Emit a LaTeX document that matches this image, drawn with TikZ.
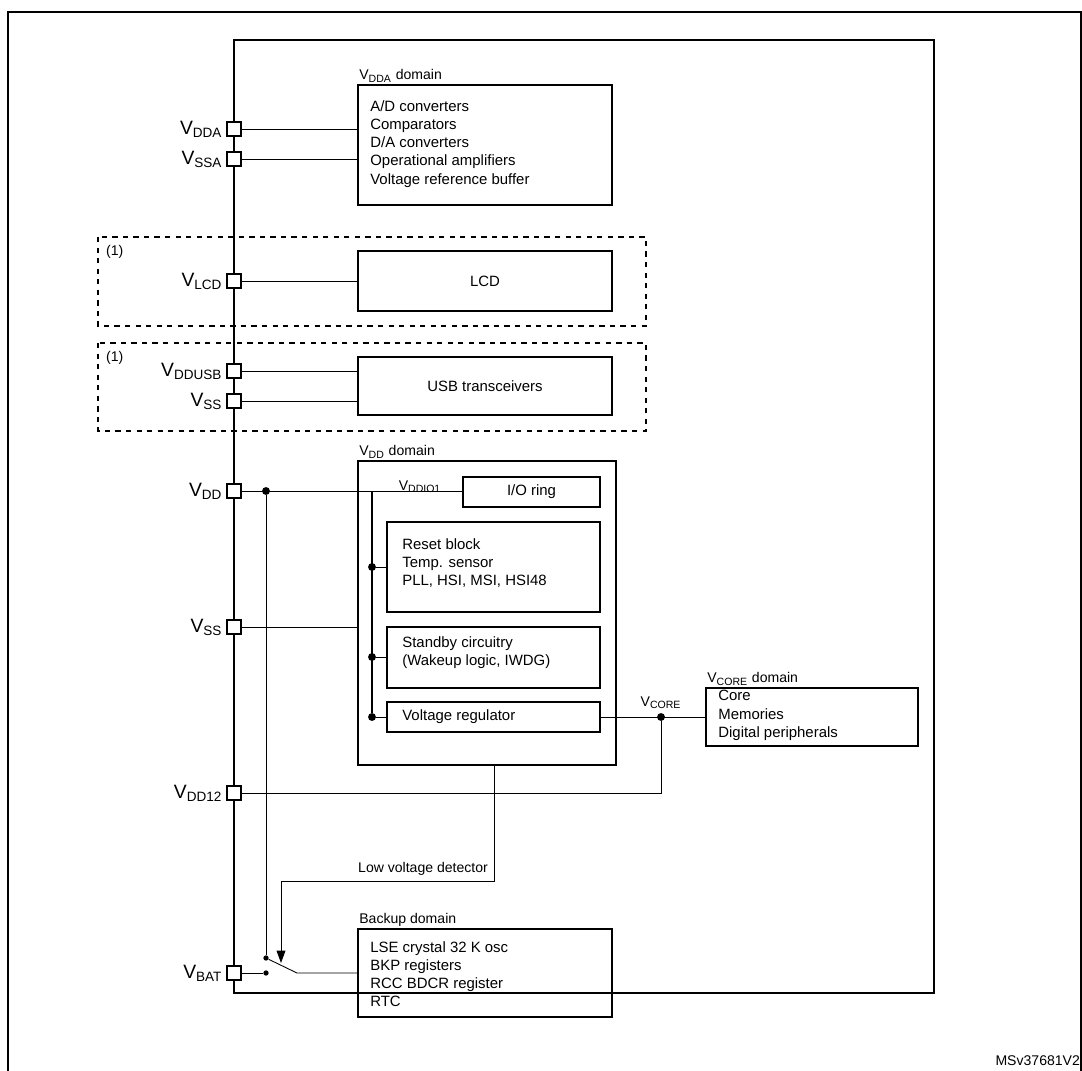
\documentclass[tikz,border=0pt]{standalone}
\usepackage{fontspec}
\setmainfont{Liberation Sans}
\usetikzlibrary{arrows.meta}
\tikzset{
  wire/.style={line width=0.5pt},
  pad/.style={draw, line width=0.9pt, fill=white, minimum size=0.28cm, inner sep=0pt},
  box/.style={draw, line width=0.9pt, inner sep=0pt},
  txt/.style={anchor=north west, align=left, inner sep=0pt, font=\fontsize{8.5}{10.4}\selectfont},
  lbl/.style={anchor=south west, inner sep=1pt, font=\fontsize{8}{9}\selectfont},
  pin/.style={anchor=east, inner sep=0pt, font=\fontsize{11}{12}\selectfont},
  dot/.style={circle, fill, inner sep=0pt, minimum size=4.5pt},
  dotsm/.style={circle, fill, inner sep=0pt, minimum size=3pt},
  grp/.style={draw, dashed, line width=0.6pt}
}
\newcommand{\sub}[1]{\textsubscript{#1}}
\begin{document}
\begin{tikzpicture}[x=0.02cm,y=-0.02cm]
  \useasboundingbox (0,0) rectangle (1082,1071);
  % Outer frame
  \draw[line width=0.9pt] (8,1071) -- (8,12) -- (1081,12) -- (1081,1071);
  \node[anchor=south east, inner sep=1pt, font=\fontsize{8}{9}\selectfont] at (1082,1068) {MSv37681V2};

  % Chip outline
  \draw[line width=0.9pt] (234,40) rectangle (934,993);

  % Groups of optional supplies
  \draw[grp] (98,237) rectangle (646,326);
  \draw[grp] (98,343) rectangle (646,431);
  \node[lbl, anchor=north west] at (104,243) {(1)};
  \node[lbl, anchor=north west] at (104,349) {(1)};

  % Domain boxes
  \node[box, minimum width=5.08cm, minimum height=2.4cm] (dda) at (485,145) {};
  \node[lbl] at (dda.north west) {V\sub{DDA} domain};
  \node[txt] at (370,100) {A/D converters\\Comparators\\D/A converters\\Operational amplifiers\\Voltage reference buffer};

  \node[box, minimum width=5.08cm, minimum height=1.2cm, font=\fontsize{8.5}{10}\selectfont] (lcd) at (485,281) {LCD};
  \node[box, minimum width=5.08cm, minimum height=1.16cm, font=\fontsize{8.5}{10}\selectfont] (usb) at (485,386) {USB transceivers};

  \node[box, minimum width=5.16cm, minimum height=6.08cm] (dd) at (487,613) {};
  \node[lbl] at (dd.north west) {V\sub{DD} domain};
  \node[box, minimum width=2.74cm, minimum height=0.6cm, font=\fontsize{8.5}{10}\selectfont] (io) at (531.5,492) {I/O ring};
  \node[box, minimum width=4.26cm, minimum height=1.8cm] (rst) at (493.5,567) {};
  \node[txt] at (402,538) {Reset block\\Temp. sensor\\PLL, HSI, MSI, HSI48};
  \node[box, minimum width=4.26cm, minimum height=1.22cm] (stby) at (493.5,657.5) {};
  \node[txt] at (402,636) {Standby circuitry\\(Wakeup logic, IWDG)};
  \node[box, minimum width=4.26cm, minimum height=0.6cm] (reg) at (493.5,717) {};
  \node[txt, anchor=west] at (402,717) {Voltage regulator};

  \node[box, minimum width=4.24cm, minimum height=1.16cm] (core) at (812,717) {};
  \node[lbl] at (core.north west) {V\sub{CORE} domain};
  \node[txt] at (718,690) {Core\\Memories\\Digital peripherals};

  \node[box, minimum width=5.08cm, minimum height=1.76cm] (bkp) at (485,973) {};
  \node[lbl] at (bkp.north west) {Backup domain};
  \node[txt] at (370,941) {LSE crystal 32 K osc\\BKP registers\\RCC BDCR register\\RTC};

  % Pads
  \foreach \nm/\y/\txt in {pdda/129/DDA, pssa/159/SSA, plcd/281/LCD, pusb/371/DDUSB, pssu/401/SS,
                           pdd/491/DD, pss/627/SS, pd12/793/DD12, pbat/973/BAT}{
    \node[pad] (\nm) at (234,\y) {};
    \node[pin] at ([xshift=-2pt]\nm.west) {V\sub{\txt}};
  }

  % Supply wires
  \draw[wire] (pdda) -- (pdda -| dda.west);
  \draw[wire] (pssa) -- (pssa -| dda.west);
  \draw[wire] (plcd) -- (lcd);
  \draw[wire] (pusb) -- (pusb -| usb.west);
  \draw[wire] (pssu) -- (pssu -| usb.west);
  \draw[wire] (pss) -- (pss -| dd.west);

  % VDD distribution
  \node[dot] (jdd) at (266,491) {};
  \coordinate (bus) at (372,491);
  \draw[wire] (pdd) -- (io.west |- pdd);
  \node[lbl, anchor=south] at (420,495) {V\sub{DDIO1}};
  \node[dot] (jrst) at (372,567) {};
  \node[dot] (jstb) at (372,657) {};
  \node[dot] (jreg) at (372,717) {};
  \draw[line width=0.9pt] (bus) -- (jreg);
  \draw[wire] (jrst) -- (rst.west |- jrst);
  \draw[wire] (jstb) -- (stby.west |- jstb);
  \draw[wire] (jreg) -- (reg.west |- jreg);

  % VCORE
  \node[dot] (jcore) at (661,717) {};
  \draw[wire] (reg.east) -- (core.west);
  \node[lbl, anchor=south] at (661,711) {V\sub{CORE}};
  \draw[wire] (pd12) -| (jcore);

  % Low voltage detector and switch
  \node[dotsm] (sw1) at (266,958) {};
  \node[dotsm] (sw2) at (266,973) {};
  \coordinate (swp) at (297,973);
  \draw[wire] (jdd) -- (sw1);
  \draw[wire] (pbat) -- (sw2);
  \draw[wire] (sw1) -- (swp) -- (bkp.west |- swp);
  \draw[wire, -{Triangle[length=7pt,width=5pt]}] (494,765) -- (494,881) -- (281,881) -- (281,963);
  \node[lbl, anchor=south east] at (490,878) {Low voltage detector};
\end{tikzpicture}
\end{document}
